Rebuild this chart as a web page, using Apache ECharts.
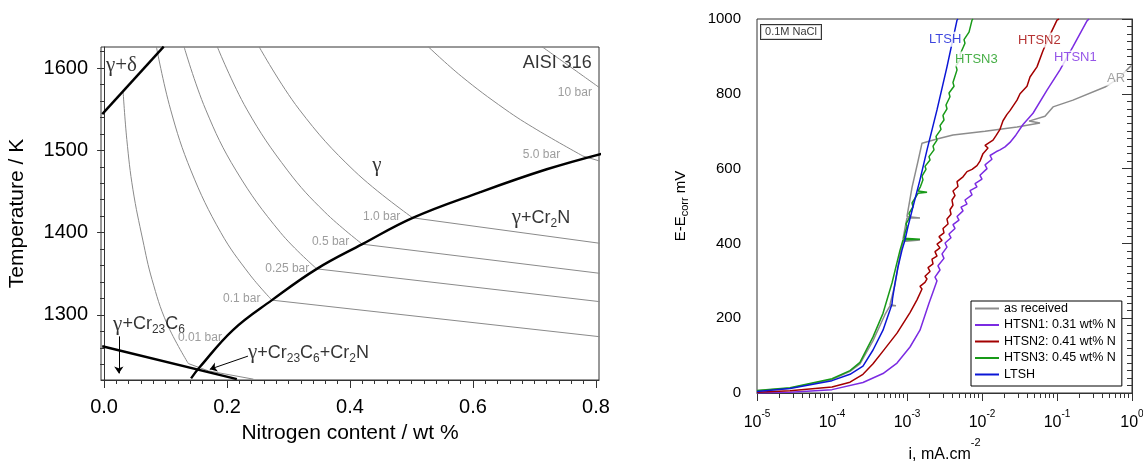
<!DOCTYPE html>
<html><head><meta charset="utf-8">
<script src="https://cdn.jsdelivr.net/npm/echarts@6/dist/echarts.min.js"></script>
<style>html,body{margin:0;padding:0;background:#fff}#c{width:1143px;height:463px}</style>
</head><body><div id="c"></div>
<script>
// ================= LEFT PANEL: AISI 316 (x = wt% N, y = T / K) =================
const xTicksLeft = [0, 0.2, 0.4, 0.6, 0.8];
const yTicksLeft = [1300, 1400, 1500, 1600];

// thick phase boundaries
const bndDelta = [[-0.003,1544],[0.097,1626]];
const bndCr2N  = [[0.1415,1223],[0.156,1237],[0.21,1282],[0.273,1318],[0.346,1356],[0.42,1386],[0.502,1418],[0.611,1449],[0.72,1477],[0.81,1496]];
const bndC6    = [[-0.003,1262],[0.216,1222]];
const bndThin  = [[0.137,1241],[0.17,1232],[0.243,1222]];

// isobars, gamma region
const iso001 = [[0.031,1571],[0.037,1513],[0.047,1452],[0.063,1391],[0.078,1343],[0.102,1290],[0.137,1241]];
const iso01  = [[0.085,1626],[0.108,1550],[0.1415,1475],[0.19,1400],[0.236,1350],[0.273,1318]];
const iso025 = [[0.130,1626],[0.165,1550],[0.215,1475],[0.287,1400],[0.346,1356]];
const iso05  = [[0.184,1626],[0.232,1550],[0.299,1475],[0.359,1425],[0.42,1386]];
const iso1   = [[0.252,1626],[0.317,1550],[0.407,1475],[0.502,1418]];
const iso5   = [[0.527,1626],[0.581,1590],[0.652,1550],[0.704,1525],[0.779,1493]];
const iso10  = [[0.712,1626],[0.761,1600],[0.806,1576]];
// isobars, gamma + Cr2N region
const iso01b  = [[0.273,1318],[0.806,1273.6]];
const iso025b = [[0.346,1356],[0.806,1316.2]];
const iso05b  = [[0.42,1386],[0.806,1350.6]];
const iso1b   = [[0.502,1418],[0.806,1387.1]];
const iso5b   = [[0.779,1493],[0.806,1487]];

// ================= RIGHT PANEL: polarisation curves (log10 i, E-Ecorr mV) =================
const yTicksRight = [0, 200, 400, 600, 800, 1000];
const asReceived = [[-5,6],[-4.56,13],[-4,36],[-3.76,58],[-3.627,78],[-3.453,140],[-3.293,210],[-3.227,233],[-3.147,233],[-3.227,236],[-3.16,290],[-3.093,370],[-3.053,405],[-2.827,409],[-3.053,412],[-3.027,440],[-3.0,468],[-2.827,468],[-3.0,472],[-2.933,550],[-2.853,620],[-2.8,668],[-2.6,679],[-2.387,690],[-1.96,700],[-1.533,711],[-1.227,722],[-1.373,727],[-1.16,740],[-1.053,765],[-0.787,783],[-0.36,818],[-0.187,840],[-0.027,872],[0,876]];
const htsn1 = [[-5,0],[-4.56,2],[-4,9],[-3.587,28],[-3.32,52],[-3.133,80],[-2.96,123],[-2.827,168],[-2.707,240],[-2.653,270],[-2.6,300],[-2.627,310],[-2.56,329],[-2.587,340],[-2.507,360],[-2.533,372],[-2.467,390],[-2.493,401],[-2.413,415],[-2.44,425],[-2.36,440],[-2.387,450],[-2.307,462],[-2.333,472],[-2.253,487],[-2.28,497],[-2.2,505],[-2.227,516],[-2.133,530],[-2.16,541],[-2.067,551],[-2.093,560],[-2.0,572],[-2.027,582],[-1.933,600],[-1.96,610],[-1.867,625],[-1.893,635],[-1.813,645],[-1.76,650],[-1.693,658],[-1.627,670],[-1.547,690],[-1.453,718],[-1.32,748],[-1.133,810],[-0.96,864],[-0.787,926],[-0.6,995],[-0.573,1000]];
const htsn2 = [[-5,2],[-4.56,6],[-4,16],[-3.76,29],[-3.587,50],[-3.453,78],[-3.32,112],[-3.133,160],[-2.96,215],[-2.867,249],[-2.8,278],[-2.827,285],[-2.76,296],[-2.733,305],[-2.76,312],[-2.693,325],[-2.72,335],[-2.653,345],[-2.667,358],[-2.6,366],[-2.627,378],[-2.56,388],[-2.6,398],[-2.533,408],[-2.573,418],[-2.507,428],[-2.52,440],[-2.453,452],[-2.467,465],[-2.413,478],[-2.427,490],[-2.387,502],[-2.4,516],[-2.36,528],[-2.387,540],[-2.32,552],[-2.333,565],[-2.253,578],[-2.2,592],[-2.133,598],[-2.067,608],[-2.027,620],[-1.987,640],[-1.92,655],[-1.96,662],[-1.853,676],[-1.813,688],[-1.76,705],[-1.72,728],[-1.667,745],[-1.627,755],[-1.533,783],[-1.493,800],[-1.4,820],[-1.36,845],[-1.267,872],[-1.187,915],[-1.1,955],[-1.0,997],[-0.973,1000]];
const htsn3 = [[-5,7],[-4.56,14],[-4,38],[-3.76,60],[-3.627,82],[-3.453,150],[-3.32,213],[-3.2,294],[-3.093,382],[-3.053,409],[-2.827,411],[-3.04,414],[-3.027,428],[-3.0,445],[-3.013,452],[-2.96,471],[-2.973,480],[-2.92,498],[-2.933,508],[-2.853,534],[-2.733,537],[-2.853,540],[-2.82,552],[-2.787,570],[-2.8,580],[-2.747,598],[-2.76,606],[-2.693,623],[-2.707,632],[-2.64,650],[-2.653,660],[-2.6,676],[-2.613,686],[-2.547,705],[-2.56,715],[-2.507,730],[-2.52,742],[-2.467,760],[-2.48,770],[-2.427,792],[-2.44,802],[-2.373,820],[-2.387,830],[-2.333,864],[-2.347,875],[-2.28,895],[-2.293,905],[-2.227,935],[-2.24,945],[-2.173,965],[-2.133,997],[-2.12,1000]];
const ltsh = [[-5,4],[-4.56,12],[-4,33],[-3.76,50],[-3.587,72],[-3.453,115],[-3.32,168],[-3.227,222],[-3.2,238],[-3.187,243],[-3.193,252],[-3.16,294],[-3.12,337],[-3.067,382],[-3.027,409],[-2.987,445],[-2.92,498],[-2.827,570],[-2.733,650],[-2.6,757],[-2.467,872],[-2.333,997],[-2.32,1000]];

const seriesNames = ['as received','HTSN1: 0.31 wt% N','HTSN2: 0.41 wt% N','HTSN3: 0.45 wt% N','LTSH'];
const seriesColors = ['#8c8c8c','#7b2be2','#a30000','#189a18','#0b16d6'];
const seriesData = [asReceived, htsn1, htsn2, htsn3, ltsh];

// ---------------- helpers / tick positions ----------------
const SANS = 'Liberation Sans', SERIF = 'Liberation Serif';
const xMinorLeft = []; for (let k = 1; k < 40; k++) if (k % 10) xMinorLeft.push(Math.round(k*20)/1000);
const yMinorLeft = []; for (let v = 1240; v <= 1620; v += 20) if (v % 100) yMinorLeft.push(v);
const xMinorRight = []; for (let n = -5; n < 0; n++) for (let k = 2; k <= 9; k++) xMinorRight.push(n + Math.log10(k));

function ln(data, xi, yi, color, width, smooth, z) {
  return {type:'line', xAxisIndex:xi, yAxisIndex:yi, data, symbol:'none', showSymbol:false,
    smooth: smooth, lineStyle:{color, width}, silent:true, z: z || 2, animation:false};
}
const RICH = {
  g:{fontFamily:SERIF, fontSize:21, lineHeight:24, verticalAlign:'middle', color:'#000'},
  t:{fontFamily:SANS, fontSize:18, lineHeight:24, verticalAlign:'middle', color:'#000'},
  s:{fontFamily:SANS, fontSize:12, lineHeight:12, verticalAlign:'bottom', color:'#000'},
  q:{fontFamily:SANS, fontSize:12, lineHeight:14, verticalAlign:'middle', color:'#858585'}
};
const leftTexts = [
  ['{g|γ+δ}', 0.003, 1603.6], ['{t|AISI 316}', 0.681, 1606],
  ['{g|γ}', 0.436, 1482], ['{g|γ}{t|+Cr}{s|2}{t|N}', 0.663, 1418],
  ['{g|γ}{t|+Cr}{s|23}{t|C}{s|6}', 0.0146, 1289],
  ['{g|γ}{t|+Cr}{s|23}{t|C}{s|6}{t|+Cr}{s|2}{t|N}', 0.234, 1254],
  ['{q|10 bar}', 0.738, 1569.6], ['{q|5.0 bar}', 0.681, 1494.3], ['{q|1.0 bar}', 0.421, 1419],
  ['{q|0.5 bar}', 0.338, 1388.7], ['{q|0.25 bar}', 0.262, 1355.9], ['{q|0.1 bar}', 0.1935, 1319.4],
  ['{q|0.01 bar}', 0.120, 1272]
];
const rightTexts = [
  ['LTSH', -2.72, 946, '#0b16d6'], ['HTSN3', -2.373, 893, '#189a18'],
  ['HTSN2', -1.533, 944, '#a30000'], ['HTSN1', -1.053, 896, '#7b2be2'], ['AR', -0.347, 842, '#8c8c8c']
];

const series = [
  ln(iso001,0,0,'#8a8a8a',1,0.4), ln(iso01,0,0,'#8a8a8a',1,0.4), ln(iso025,0,0,'#8a8a8a',1,0.4),
  ln(iso05,0,0,'#8a8a8a',1,0.4), ln(iso1,0,0,'#8a8a8a',1,0.4), ln(iso5,0,0,'#8a8a8a',1,0.4), ln(iso10,0,0,'#8a8a8a',1,0.4),
  ln(iso01b,0,0,'#8a8a8a',1,false), ln(iso025b,0,0,'#8a8a8a',1,false), ln(iso05b,0,0,'#8a8a8a',1,false),
  ln(iso1b,0,0,'#8a8a8a',1,false), ln(iso5b,0,0,'#8a8a8a',1,false), ln(bndThin,0,0,'#8a8a8a',1,false),
  ln(bndDelta,0,0,'#000',2.4,false,5), ln(bndCr2N,0,0,'#000',2.4,0.4,5), ln(bndC6,0,0,'#000',2.4,false,5),
  {type:'lines', coordinateSystem:'cartesian2d', xAxisIndex:0, yAxisIndex:0, silent:true, z:6,
   symbol:['none','arrow'], symbolSize:7, lineStyle:{color:'#000', width:1, opacity:1},
   data:[{coords:[[0.024,1274],[0.024,1229]]},{coords:[[0.234,1250],[0.172,1234]]}]},
  {type:'scatter', xAxisIndex:0, yAxisIndex:0, symbolSize:0.1, itemStyle:{color:'transparent'}, silent:true, z:20,
   data: leftTexts.map(t => ({value:[t[1], t[2]], label:{show:true, position:'right', distance:0, rich:RICH, formatter:() => t[0]}}))}
];
seriesData.forEach((d, i) => {
  series.push({type:'line', name:seriesNames[i], xAxisIndex:2, yAxisIndex:2, symbol:'none', showSymbol:false,
    data: d.map(p => [Math.pow(10, p[0]), p[1]]), lineStyle:{color:seriesColors[i], width:1.5},
    itemStyle:{color:seriesColors[i]}, silent:true, animation:false, z:3+i});
});
series.push({type:'scatter', xAxisIndex:2, yAxisIndex:2, symbolSize:0.1, itemStyle:{color:'transparent'}, silent:true, z:20,
  data: rightTexts.map(t => ({value:[Math.pow(10,t[1]), t[2]], label:{show:true, position:'right', distance:0,
    formatter:() => t[0], color:t[3], fontSize:13, fontFamily:SANS, backgroundColor:'#fff', padding:[1,1,1,1]}}))
   .concat([{value:[Math.pow(10,-4.947), 965], label:{show:true, position:'right', distance:0, formatter:() => '0.1M NaCl',
     color:'#000', fontSize:11, fontFamily:SANS, backgroundColor:'#fff', borderColor:'#000', borderWidth:1, padding:[2,4,1,4]}}])});

const axLine = {show:true, lineStyle:{color:'#333', width:1}};
const option = {
  animation:false,
  textStyle:{fontFamily:SANS},
  grid:[
    {left:101, top:47, width:498, height:333, show:true, borderColor:'#333', borderWidth:1, containLabel:false, outerBoundsMode:'none'},
    {left:757, top:19, width:375, height:374, show:true, borderColor:'#333', borderWidth:1, containLabel:false, outerBoundsMode:'none'}
  ],
  legend:{data:seriesNames, orient:'vertical', left:971, top:301, icon:'rect', itemWidth:24, itemHeight:2, itemGap:3.5,
    padding:[1,6,5,4], borderColor:'#000', borderWidth:1, backgroundColor:'#fff', selectedMode:false,
    textStyle:{fontSize:12.5, lineHeight:12, color:'#000', fontFamily:SANS}},
  xAxis:[
    {gridIndex:0, type:'value', min:-0.005, max:0.805, position:'bottom', axisLine:axLine, splitLine:{show:false},
     axisTick:{show:true, length:8, customValues:xTicksLeft, lineStyle:{color:'#333'}},
     axisLabel:{customValues:xTicksLeft, fontSize:20, lineHeight:20, color:'#000', margin:17, formatter:v => v.toFixed(1)},
     name:'Nitrogen content / wt %', nameLocation:'middle', nameGap:41, nameTextStyle:{fontSize:21, lineHeight:22, color:'#000'}},
    {gridIndex:0, type:'value', min:-0.005, max:0.805, position:'bottom', axisLine:{show:false}, splitLine:{show:false},
     axisTick:{show:true, length:4, customValues:xMinorLeft, lineStyle:{color:'#333'}}, axisLabel:{show:false}},
    {gridIndex:1, type:'log', logBase:10, min:1e-5, max:1, position:'bottom', axisLine:axLine, splitLine:{show:false},
     axisTick:{show:true, length:8, lineStyle:{color:'#333'}},
     axisLabel:{margin:16, color:'#000', formatter:v => '{m|10}{p|' + Math.round(Math.log10(v)) + '}',
       rich:{m:{fontSize:16, lineHeight:28, verticalAlign:'middle', color:'#000'}, p:{fontSize:10, lineHeight:10, verticalAlign:'top', color:'#000'}}},
     name:'{m|i, mA.cm}{p|-2}', nameLocation:'middle', nameGap:44,
     nameTextStyle:{rich:{m:{fontSize:16, lineHeight:36, verticalAlign:'middle', color:'#000'}, p:{fontSize:11, lineHeight:11, verticalAlign:'top', color:'#000'}}}},
    {gridIndex:1, type:'value', min:-5, max:0, position:'bottom', axisLine:{show:false}, splitLine:{show:false},
     axisTick:{show:true, length:5, customValues:xMinorRight, lineStyle:{color:'#333'}}, axisLabel:{show:false}}
  ],
  yAxis:[
    {gridIndex:0, type:'value', min:1221, max:1625.5, position:'left', axisLine:axLine, splitLine:{show:false},
     axisTick:{show:true, length:7, customValues:yTicksLeft, lineStyle:{color:'#333'}},
     axisLabel:{customValues:yTicksLeft, fontSize:20, color:'#000', margin:13, formatter:v => String(v)},
     name:'Temperature / K', nameLocation:'middle', nameGap:73, nameTextStyle:{fontSize:21, lineHeight:22, color:'#000'}},
    {gridIndex:0, type:'value', min:1221, max:1625.5, position:'left', axisLine:{show:false}, splitLine:{show:false},
     axisTick:{show:true, length:4, customValues:yMinorLeft, lineStyle:{color:'#333'}}, axisLabel:{show:false}},
    {gridIndex:1, type:'value', min:0, max:1000, interval:200, position:'left', axisLine:axLine, splitLine:{show:false},
     axisTick:{show:true, length:10, lineStyle:{color:'#333'}},
     minorTick:{show:true, splitNumber:10, length:5, lineStyle:{color:'#333'}},
     axisLabel:{fontSize:15, color:'#000', margin:16, formatter:v => String(v)},
     name:'{m|E-E}{s|corr}{m| mV}', nameLocation:'middle', nameGap:67,
     nameTextStyle:{rich:{m:{fontSize:15, lineHeight:18, verticalAlign:'middle', color:'#000'}, s:{fontSize:11, lineHeight:11, verticalAlign:'bottom', color:'#000'}}}}
  ],
  series
};
const chart = echarts.init(document.getElementById('c'));
chart.setOption(option);
</script></body></html>
